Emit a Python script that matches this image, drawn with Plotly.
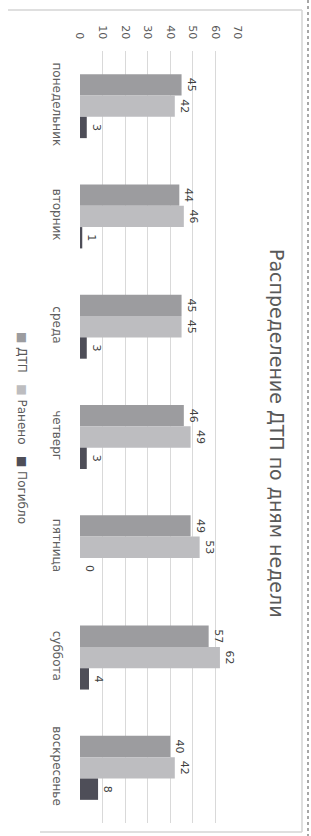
import plotly.graph_objects as go

days = ["понедельник", "вторник", "среда", "четверг", "пятница", "суббота", "воскресенье"]
dtp = [45, 44, 45, 46, 49, 57, 40]
injured = [42, 46, 45, 49, 53, 62, 42]
killed = [3, 1, 3, 3, 0, 4, 8]
series_names = ["ДТП", "Ранено", "Погибло"]
colors = ["#9c9c9f", "#bdbdc0", "#4e4e58"]
title_text = "Распределение ДТП по дням недели"
x_ticks = [0, 10, 20, 30, 40, 50, 60, 70]

W, H = 311, 836
L, R, T, B = 80, 73, 51, 13
PW, PH = W - L - R, H - T - B

def pxx(p):
    return (p - L) / PW

def pxy(p):
    return 1 - (p - T) / PH

FONT = "DejaVu Sans"

fig = go.Figure()
for name, vals, col in zip(series_names, [dtp, injured, killed], colors):
    fig.add_trace(go.Bar(
        y=days, x=vals, name=name, orientation="h",
        marker=dict(color=col, line=dict(width=0)),
        text=[str(v) for v in vals], textposition="outside",
        textangle=90, constraintext="none", cliponaxis=False,
        textfont=dict(family=FONT, size=11, color="#404040"),
    ))

fig.update_layout(
    width=W, height=H,
    margin=dict(l=L, r=R, t=T, b=B, pad=0, autoexpand=False),
    paper_bgcolor="white", plot_bgcolor="white",
    barmode="group", bargap=0.42, bargroupgap=0,
    showlegend=False,
    font=dict(family=FONT, color="#595959"),
    xaxis=dict(
        range=[0, 70], tickvals=x_ticks, side="top", tickangle=90,
        showgrid=True, gridcolor="#d9d9d9", gridwidth=1,
        zeroline=False, showline=False, automargin=False,
        ticks="outside", ticklen=7, tickcolor="rgba(0,0,0,0)",
        tickfont=dict(family=FONT, size=11, color="#595959"),
        ticklabelstandoff=0,
    ),
    yaxis=dict(
        autorange="reversed", tickangle=90, showgrid=False,
        zeroline=False, showline=False, ticks="", automargin=False,
        tickfont=dict(family=FONT, size=12, color="#606060"),
        ticklabelstandoff=14,
    ),
)

legend_text = ("<span style='color:%s'>■</span>\u00a0%s\u00a0\u00a0\u00a0"
               "<span style='color:%s'>■</span>\u00a0%s\u00a0\u00a0\u00a0"
               "<span style='color:%s'>■</span>\u00a0%s") % (
    colors[0], series_names[0], colors[1], series_names[1], colors[2], series_names[2])

fig.add_annotation(text=title_text, textangle=90, xref="paper", yref="paper",
                   x=pxx(277), y=pxy(433), xanchor="center", yanchor="middle", showarrow=False,
                   font=dict(family=FONT, size=19, color="#595959"))
fig.add_annotation(text=legend_text, textangle=90, xref="paper", yref="paper",
                   x=pxx(22), y=pxy(428), xanchor="center", yanchor="middle", showarrow=False,
                   font=dict(family=FONT, size=12, color="#595959"))

# chart frame
line_col = "#d4d4d4"
fig.add_shape(type="line", xref="paper", yref="paper", x0=pxx(8), x1=pxx(302), y0=pxy(10), y1=pxy(10),
              line=dict(color=line_col, width=1.5))
fig.add_shape(type="line", xref="paper", yref="paper", x0=pxx(40), x1=pxx(302), y0=pxy(832), y1=pxy(832),
              line=dict(color=line_col, width=1.5))
fig.add_shape(type="line", xref="paper", yref="paper", x0=pxx(302), x1=pxx(302), y0=pxy(10), y1=pxy(832),
              line=dict(color=line_col, width=1.5))
# edge of scanned page text
fig.add_shape(type="line", xref="paper", yref="paper", x0=pxx(308), x1=pxx(308), y0=pxy(0), y1=pxy(836),
              line=dict(color="#8a8a8a", width=1.5, dash="dot"))

fig.write_html("out.html", config={"displayModeBar": False},
               post_script="document.body.style.margin='0';document.body.style.overflow='hidden';")
